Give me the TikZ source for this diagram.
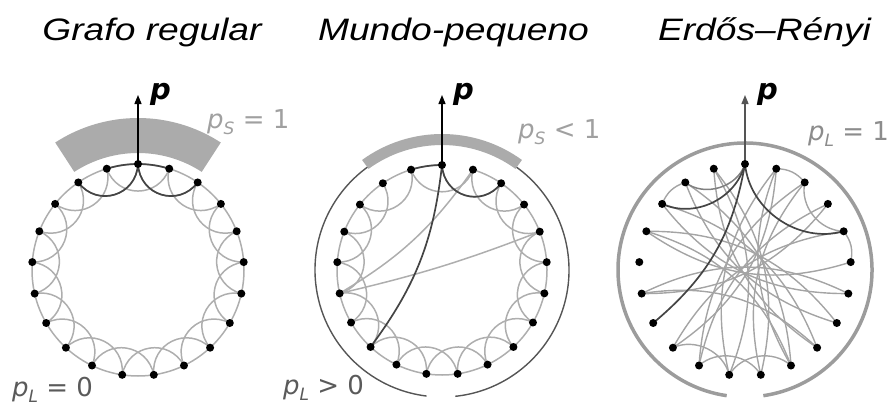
\documentclass[tikz,border=0pt]{standalone}
\usepackage{fontspec}
\setmainfont{Liberation Sans}
\newfontfamily\lblfont{DejaVu Sans}
\usetikzlibrary{arrows.meta}
\definecolor{latgray}{HTML}{AEAEAE}
\definecolor{hidark}{HTML}{444444}
\definecolor{bandgray}{HTML}{ABABAB}
\definecolor{outdark}{HTML}{555555}
\definecolor{outgray}{HTML}{9C9C9C}
\definecolor{ergray}{HTML}{A4A4A4}
\definecolor{ermid}{HTML}{808080}
\definecolor{lblgray}{HTML}{A0A0A0}
\definecolor{lblmid}{HTML}{8C8C8C}
\definecolor{lbldark}{HTML}{5A5A5A}
\newcommand\psub[1]{{\itshape p}\raisebox{-0.25em}{\fontsize{17}{17}\selectfont\itshape #1}}
\begin{document}
\begin{tikzpicture}[x=1pt,y=1pt,
  lat/.style={draw=latgray, line width=1.5pt},
  hi/.style={draw=hidark, line width=1.7pt},
  er/.style={draw=ergray, line width=1.4pt},
  ermd/.style={draw=ermid, line width=1.5pt},
  dot/.style={circle, fill=black, inner sep=0pt, minimum size=8pt},
  arr/.style={line width=1.3pt, -{Triangle[length=9pt,width=7pt]}},
  ttl/.style={anchor=base, inner sep=0pt, font=\fontsize{31}{31}\selectfont\itshape},
  lbl/.style={anchor=base west, inner sep=0pt, font=\lblfont\fontsize{26}{26}\selectfont},
  plbl/.style={anchor=base west, inner sep=0pt, font=\lblfont\fontsize{29}{29}\selectfont\bfseries\itshape}
]
\useasboundingbox (0,0) rectangle (890,408);

% titles
\node[ttl] (t1) at (152,367) {\scalebox{1.2}[1]{Grafo regular}};
\node[ttl] (t2) at (453.5,367) {\scalebox{1.2}[1]{Mundo-pequeno}};
\node[ttl] (t3) at (764.5,367) {\scalebox{1.2}[1]{Erdős–Rényi}};

% centres
\coordinate (ca) at (138,138);
\coordinate (cb) at (442,138);
\coordinate (cc) at (745,138);

\foreach \i in {0,...,20} {
  \coordinate (A\i) at ([shift={(90+\i*360/21:106)}]ca);
  \coordinate (B\i) at ([shift={(90+\i*360/21:105)}]cb);
  \coordinate (C\i) at ([shift={(90+\i*360/21:106)}]cc);
}

%================ panel 1: regular
\fill[bandgray] ([shift={(57:117)}]ca) arc[start angle=57,end angle=123,radius=117]
  -- ([shift={(123:152)}]ca) arc[start angle=123,end angle=57,radius=152] -- cycle;
\draw[lat] (ca) circle[radius=106];
\foreach \i in {0,...,20} {
  \pgfmathtruncatemacro\j{mod(\i+2,21)}
  \draw[lat] (A\i) to[bend left=70, looseness=1.3] (A\j);
}
\draw[hi] ([shift={(72.857:106)}]ca) arc[start angle=72.857,end angle=107.143,radius=106];
\draw[hi] (A0) to[bend left=70, looseness=1.3] (A2);
\draw[hi] (A19) to[bend left=70, looseness=1.3] (A0);
\coordinate (tipA) at (138,313);
\draw[arr] (A0) -- (tipA);
\node[plbl] (pa) at (150,309) {p};
\node[lbl, text=lblgray] (ps1) at (207,280) {\psub{S} = 1};
\node[lbl, text=lbldark] (pl1) at (12,12) {\psub{L} = 0};

%================ panel 2: small world
\draw[outdark, line width=1.4pt] ([shift={(276:127)}]cb) arc[start angle=276,end angle=623,radius=127];
\fill[bandgray] ([shift={(54:125)}]cb) arc[start angle=54,end angle=126,radius=125]
  -- ([shift={(126:136)}]cb) arc[start angle=126,end angle=54,radius=136] -- cycle;
\draw[lat] ([shift={(90:105)}]cb) arc[start angle=90,end angle=432.857,radius=105];
\foreach \i in {1,...,20} {
  \pgfmathtruncatemacro\j{mod(\i+2,21)}
  \draw[lat] (B\i) to[bend left=70, looseness=1.3] (B\j);
}
\draw[lat] (B20) to[bend left=12] (B6);
\draw[lat] (B17) to[bend left=4] (B6);
\draw[hi] ([shift={(90:105)}]cb) arc[start angle=90,end angle=107.143,radius=105];
\draw[hi] (B19) to[bend left=70, looseness=1.3] (B0);
\draw[hi] (B0) to[bend left=15] (B8);
\coordinate (tipB) at (442,313);
\draw[arr] (B0) -- (tipB);
\node[plbl] (pb) at (453,309) {p};
\node[lbl, text=lblgray] (ps2) at (518,270) {\psub{S} < 1};
\node[lbl, text=lbldark] (pl2) at (283,14) {\psub{L} > 0};

%================ panel 3: Erdos-Renyi
\draw[outgray, line width=3.5pt] ([shift={(278.3:127)}]cc) arc[start angle=278.3,end angle=621.7,radius=127];
\foreach \a/\b in {1/10,1/11,2/12,14/2,3/13,15/3,4/14,16/4,6/15,18/6,6/13,8/17,20/8,9/19,9/18,10/20,11/19,12/20,4/12,13/1}
  \draw[er] (C\a) to[bend left=26] (C\b);
\foreach \a/\b in {8/10,9/11,10/12,17/19}
  \draw[er] (C\a) to[bend left=50] (C\b);
\foreach \a/\b in {2/3,19/20,16/17}
  \draw[er] (C\a) to[bend right=25] (C\b);
\draw[ermd] (C0) to[bend left=55] (C2);
\draw[hi] (C0) to[bend left=50] (C3);
\draw[hi] (C17) to[bend left=50] (C0);
\draw[hi] (C0) to[bend left=20] (C7);
\coordinate (tipC) at (745,313);
\draw[arr, outdark] (C0) -- (tipC);
\node[plbl] (pc) at (757,309) {p};
\node[lbl, text=lblmid] (pl3) at (808,268) {\psub{L} = 1};

% dots
\foreach \i in {0,...,20} {
  \node[dot] (dA\i) at (A\i) {};
  \node[dot] (dB\i) at (B\i) {};
  \node[dot] (dC\i) at (C\i) {};
}
\end{tikzpicture}
\end{document}
